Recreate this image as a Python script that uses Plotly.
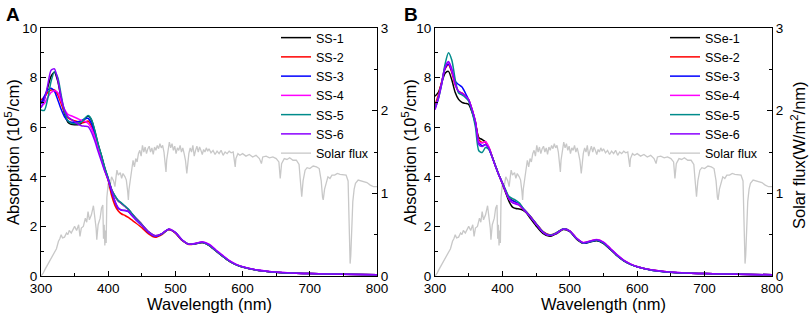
import plotly.graph_objects as go

# ---------------- data ----------------
wavelength = [300,305,310,315,320,325,330,335,340,345,350,355,360,365,370,375,380,385,390,395,
              400,405,410,415,420,425,430,435,440,450,460,470,480,490,500,510,520,530,540,550,
              560,570,580,590,600,620,640,660,680,700,750,800]

ss_names = ["SS-1", "SS-2", "SS-3", "SS-4", "SS-5", "SS-6"]
ss1 = [7.00,7.15,7.60,8.05,8.22,7.85,7.15,6.55,6.20,6.12,6.10,6.10,6.15,6.32,6.45,6.30,5.85,5.30,4.85,4.35,
       3.92,3.48,3.22,3.02,2.92,2.80,2.68,2.52,2.36,2.08,1.78,1.62,1.70,1.88,1.74,1.44,1.28,1.30,1.35,1.24,
       1.02,0.80,0.60,0.46,0.36,0.24,0.17,0.13,0.11,0.10,0.07,0.05]
ss2 = [7.10,7.22,7.40,7.50,7.50,7.30,6.95,6.60,6.38,6.30,6.26,6.22,6.18,6.20,6.25,6.05,5.65,5.15,4.70,4.25,
       3.85,3.25,2.85,2.62,2.50,2.44,2.36,2.26,2.16,1.95,1.70,1.56,1.67,1.87,1.73,1.43,1.27,1.30,1.35,1.24,
       1.02,0.80,0.60,0.46,0.36,0.24,0.17,0.13,0.11,0.10,0.07,0.05]
ss3 = [6.95,7.25,7.50,7.57,7.45,7.10,6.72,6.42,6.26,6.20,6.20,6.22,6.26,6.34,6.36,6.15,5.75,5.25,4.78,4.30,
       3.88,3.42,3.00,2.72,2.65,2.64,2.60,2.45,2.30,2.04,1.76,1.60,1.70,1.89,1.75,1.45,1.28,1.31,1.36,1.25,
       1.03,0.81,0.61,0.46,0.36,0.24,0.17,0.13,0.11,0.10,0.07,0.05]
ss4 = [6.82,6.95,7.20,7.40,7.47,7.40,7.05,6.72,6.52,6.46,6.40,6.34,6.28,6.24,6.16,5.95,5.60,5.15,4.72,4.28,
       3.90,3.50,3.22,3.02,2.92,2.80,2.68,2.52,2.37,2.09,1.79,1.63,1.71,1.89,1.76,1.46,1.29,1.32,1.38,1.28,
       1.06,0.84,0.63,0.48,0.37,0.25,0.18,0.14,0.11,0.10,0.07,0.05]
ss5 = [6.70,6.68,7.15,7.85,8.24,8.00,7.30,6.62,6.26,6.16,6.14,6.15,6.20,6.35,6.47,6.32,5.88,5.32,4.86,4.36,
       3.95,3.50,3.24,3.04,2.94,2.82,2.70,2.53,2.37,2.08,1.78,1.62,1.70,1.89,1.75,1.45,1.28,1.30,1.35,1.24,
       1.02,0.80,0.60,0.46,0.36,0.24,0.17,0.13,0.11,0.10,0.07,0.05]
ss6 = [6.78,7.10,7.70,8.30,8.35,7.90,7.20,6.70,6.42,6.32,6.22,6.12,6.06,6.04,6.02,5.80,5.45,5.02,4.62,4.22,
       3.88,3.45,3.02,2.75,2.66,2.64,2.60,2.45,2.31,2.05,1.77,1.61,1.71,1.89,1.75,1.45,1.28,1.31,1.37,1.27,
       1.05,0.83,0.62,0.47,0.37,0.25,0.18,0.14,0.11,0.10,0.07,0.05]

sse_names = ["SSe-1", "SSe-2", "SSe-3", "SSe-4", "SSe-5", "SSe-6"]
sse1 = [7.25,7.40,7.80,8.18,8.25,7.90,7.40,7.12,7.00,6.96,6.92,6.60,6.15,5.58,5.50,5.40,5.15,4.80,4.42,4.05,
        3.72,3.35,3.00,2.78,2.72,2.70,2.66,2.56,2.38,2.02,1.72,1.60,1.70,1.87,1.79,1.49,1.32,1.37,1.42,1.31,
        1.07,0.82,0.61,0.47,0.37,0.24,0.17,0.13,0.11,0.10,0.07,0.05]
sse2 = [6.90,7.30,7.85,8.35,8.52,8.20,7.70,7.45,7.38,7.28,7.10,6.72,6.22,5.50,5.38,5.40,5.18,4.80,4.42,4.06,
        3.75,3.42,3.15,3.05,2.96,2.86,2.72,2.60,2.46,2.12,1.80,1.66,1.74,1.90,1.82,1.52,1.34,1.40,1.46,1.35,
        1.10,0.84,0.63,0.48,0.37,0.25,0.18,0.13,0.11,0.10,0.07,0.05]
sse3 = [6.80,7.20,7.80,8.38,8.55,8.25,7.85,7.72,7.62,7.38,7.10,6.70,6.20,5.40,5.25,5.30,5.12,4.78,4.42,4.06,
        3.75,3.42,3.12,3.04,2.98,2.90,2.74,2.60,2.44,2.10,1.78,1.64,1.73,1.90,1.81,1.51,1.33,1.38,1.44,1.33,
        1.09,0.83,0.62,0.47,0.37,0.24,0.17,0.13,0.11,0.10,0.07,0.05]
sse4 = [6.75,7.20,7.80,8.45,8.62,8.30,7.72,7.42,7.36,7.26,7.10,6.70,6.20,5.40,5.36,5.42,5.20,4.80,4.42,4.06,
        3.75,3.40,3.10,2.96,2.92,2.88,2.74,2.60,2.44,2.10,1.78,1.64,1.73,1.89,1.82,1.53,1.35,1.41,1.47,1.37,
        1.12,0.86,0.64,0.49,0.38,0.25,0.18,0.14,0.11,0.10,0.07,0.05]
sse5 = [6.75,7.15,7.75,8.55,9.00,8.70,7.92,7.38,7.30,7.20,7.05,6.62,6.00,5.05,4.98,5.18,5.10,4.80,4.42,4.06,
        3.76,3.46,3.20,3.12,3.05,2.95,2.76,2.60,2.45,2.11,1.79,1.65,1.74,1.90,1.81,1.51,1.33,1.39,1.44,1.33,
        1.09,0.83,0.62,0.47,0.37,0.24,0.17,0.13,0.11,0.10,0.07,0.05]
sse6 = [6.70,7.15,7.75,8.42,8.65,8.35,7.75,7.45,7.36,7.26,7.10,6.70,6.20,5.30,5.22,5.30,5.15,4.78,4.40,4.05,
        3.74,3.40,3.10,2.96,2.90,2.86,2.72,2.58,2.43,2.09,1.77,1.63,1.72,1.89,1.81,1.52,1.34,1.40,1.46,1.36,
        1.11,0.85,0.63,0.48,0.37,0.25,0.18,0.14,0.11,0.10,0.07,0.05]

solar_wl = [300,303,306,310,315,320,323,326,328,330,332,335,338,340,342,345,348,350,353,356,358,360,363,366,
            368,370,372,375,378,380,382,383,385,388,390,392,393,394,395,396,397,398,400,402,405,408,410,412,
            413,415,418,420,422,425,427,429,430,431,433,435,437,439,441,443,445,447,449,451,453,455,457,459,
            461,463,465,467,469,471,473,475,477,479,481,483,485,486,487,489,491,493,495,497,499,501,503,505,
            507,509,511,513,515,517,518,520,522,524,526,528,530,532,534,536,538,540,542,544,546,548,550,553,
            556,559,562,565,568,571,574,577,580,583,586,588,589,590,593,596,600,605,610,615,620,625,628,630,
            635,640,645,650,654,656,658,662,666,670,675,680,684,686,688,690,693,696,700,705,710,714,717,719,
            720,722,724,727,730,733,737,741,745,750,754,757,759,760,761,762,764,766,768,772,776,780,785,790,
            795,800]
solar_flux = [0.00,0.03,0.08,0.14,0.22,0.28,0.33,0.42,0.45,0.50,0.46,0.47,0.52,0.50,0.55,0.52,0.56,0.60,0.55,
              0.62,0.48,0.58,0.60,0.70,0.65,0.78,0.68,0.74,0.85,0.72,0.58,0.44,0.62,0.70,0.82,0.86,0.45,0.62,
              0.37,0.55,0.40,0.95,1.12,1.05,1.20,1.15,1.08,1.22,1.28,1.22,1.25,1.18,1.24,1.20,1.16,1.02,0.92,
              1.05,1.15,1.28,1.40,1.32,1.42,1.38,1.48,1.52,1.45,1.58,1.50,1.56,1.48,1.54,1.57,1.50,1.55,1.47,
              1.56,1.52,1.58,1.54,1.60,1.55,1.58,1.50,1.38,1.26,1.40,1.55,1.62,1.55,1.60,1.52,1.57,1.48,1.55,
              1.52,1.58,1.50,1.55,1.48,1.40,1.24,1.35,1.48,1.55,1.50,1.58,1.45,1.52,1.57,1.50,1.56,1.52,1.47,
              1.53,1.50,1.55,1.51,1.54,1.49,1.52,1.47,1.51,1.48,1.52,1.46,1.50,1.48,1.51,1.49,1.50,1.40,1.32,
              1.42,1.48,1.46,1.48,1.45,1.47,1.44,1.46,1.42,1.36,1.44,1.45,1.43,1.44,1.42,1.38,1.18,1.36,1.42,
              1.41,1.43,1.40,1.40,1.35,1.15,0.96,1.15,1.28,1.31,1.30,1.33,1.32,1.30,1.15,0.95,0.92,1.05,1.10,
              1.20,1.18,1.22,1.22,1.24,1.23,1.22,1.22,1.15,0.60,0.15,0.25,0.45,0.90,1.05,1.12,1.16,1.15,1.14,
              1.13,1.10,1.08,1.08]

x_ticks = [300, 400, 500, 600, 700, 800]

colors = ["#000000", "#ff0000", "#0000ff", "#ff00ff", "#008b8b", "#8b00ff"]
solar_color = "#c8c8c8"

# ---------------- figure ----------------
W, H = 809, 318
FONT = "Liberation Sans, Arial, sans-serif"

def px_x(p):
    return p / W

def px_y(p):
    return 1 - p / H

fig = go.Figure()

panelA = [ss1, ss2, ss3, ss4, ss5, ss6]
panelB = [sse1, sse2, sse3, sse4, sse5, sse6]

for name, ys, c in zip(ss_names, panelA, colors):
    fig.add_trace(go.Scatter(x=wavelength, y=ys, name=name, mode="lines",
                             line=dict(color=c, width=1.5, shape="spline", smoothing=0.7),
                             xaxis="x", yaxis="y2", legend="legend"))
fig.add_trace(go.Scatter(x=solar_wl, y=solar_flux, name="Solar flux", mode="lines",
                         line=dict(color=solar_color, width=1.3),
                         xaxis="x", yaxis="y", legend="legend"))

for name, ys, c in zip(sse_names, panelB, colors):
    fig.add_trace(go.Scatter(x=wavelength, y=ys, name=name, mode="lines",
                             line=dict(color=c, width=1.5, shape="spline", smoothing=0.7),
                             xaxis="x2", yaxis="y4", legend="legend2"))
fig.add_trace(go.Scatter(x=solar_wl, y=solar_flux, name="Solar flux", mode="lines",
                         line=dict(color=solar_color, width=1.3),
                         xaxis="x2", yaxis="y3", legend="legend2"))

ydom = [px_y(276), px_y(28)]
xdomA = [px_x(41), px_x(377)]
xdomB = [px_x(435), px_x(772)]

tickfont = dict(family=FONT, size=13.5, color="black")
common = dict(showline=True, linecolor="black", linewidth=1, ticks="inside", ticklen=5,
              tickcolor="black", tickwidth=1, showgrid=False, zeroline=False, tickfont=tickfont,
              fixedrange=True, automargin=False)

xcommon = dict(common, range=[300, 800], tickvals=x_ticks, mirror=True,
               minor=dict(ticks="inside", ticklen=3, dtick=50, tick0=300, tickcolor="black", showgrid=False))
ysolar = dict(common, range=[0, 3], dtick=1, side="right",
              minor=dict(ticks="inside", ticklen=3, dtick=0.5, tickcolor="black", showgrid=False))
yabs = dict(common, range=[0, 10], dtick=2, side="left",
            minor=dict(ticks="inside", ticklen=3, dtick=1, tickcolor="black", showgrid=False))

legfont = dict(family=FONT, size=12.5, color="black")
fig.update_layout(
    width=W, height=H,
    margin=dict(l=0, r=0, t=0, b=0, pad=0),
    paper_bgcolor="white", plot_bgcolor="white",
    font=dict(family=FONT, color="black"),
    xaxis=dict(xcommon, domain=xdomA, anchor="y"),
    yaxis=dict(ysolar, domain=ydom, anchor="x"),
    yaxis2=dict(yabs, overlaying="y", anchor="x"),
    xaxis2=dict(xcommon, domain=xdomB, anchor="y3"),
    yaxis3=dict(ysolar, domain=ydom, anchor="x2"),
    yaxis4=dict(yabs, overlaying="y3", anchor="x2"),
    legend=dict(x=px_x(276), y=px_y(23), xanchor="left", yanchor="top",
                font=legfont, bgcolor="rgba(0,0,0,0)", tracegroupgap=0, itemwidth=30),
    legend2=dict(x=px_x(665), y=px_y(23), xanchor="left", yanchor="top",
                 font=legfont, bgcolor="rgba(0,0,0,0)", tracegroupgap=0, itemwidth=30),
    showlegend=True,
)

annotations = [
    dict(text="<b>A</b>", x=px_x(4), y=px_y(2), xanchor="left", yanchor="top", font=dict(size=19)),
    dict(text="<b>B</b>", x=px_x(402), y=px_y(2), xanchor="left", yanchor="top", font=dict(size=19)),
    dict(text="Wavelength (nm)", x=px_x(209), y=px_y(304), xanchor="center", yanchor="middle", font=dict(size=16.5)),
    dict(text="Wavelength (nm)", x=px_x(603), y=px_y(304), xanchor="center", yanchor="middle", font=dict(size=16.5)),
    dict(text="Absorption (10<sup>5</sup>/cm)", x=px_x(12), y=px_y(152), textangle=-90,
         xanchor="center", yanchor="middle", font=dict(size=16.5)),
    dict(text="Absorption (10<sup>5</sup>/cm)", x=px_x(409), y=px_y(152), textangle=-90,
         xanchor="center", yanchor="middle", font=dict(size=16.5)),
    dict(text="Solar flux(W/m<sup>2</sup>/nm)", x=px_x(798), y=px_y(155), textangle=-90,
         xanchor="center", yanchor="middle", font=dict(size=16.5)),
]
for a in annotations:
    a.update(xref="paper", yref="paper", showarrow=False)
    a["font"].update(family=FONT, color="black")
fig.update_layout(annotations=annotations)

fig.write_html("out.html",
               config={"displayModeBar": False},
               post_script="document.body.style.margin='0';document.body.style.overflow='hidden';")
